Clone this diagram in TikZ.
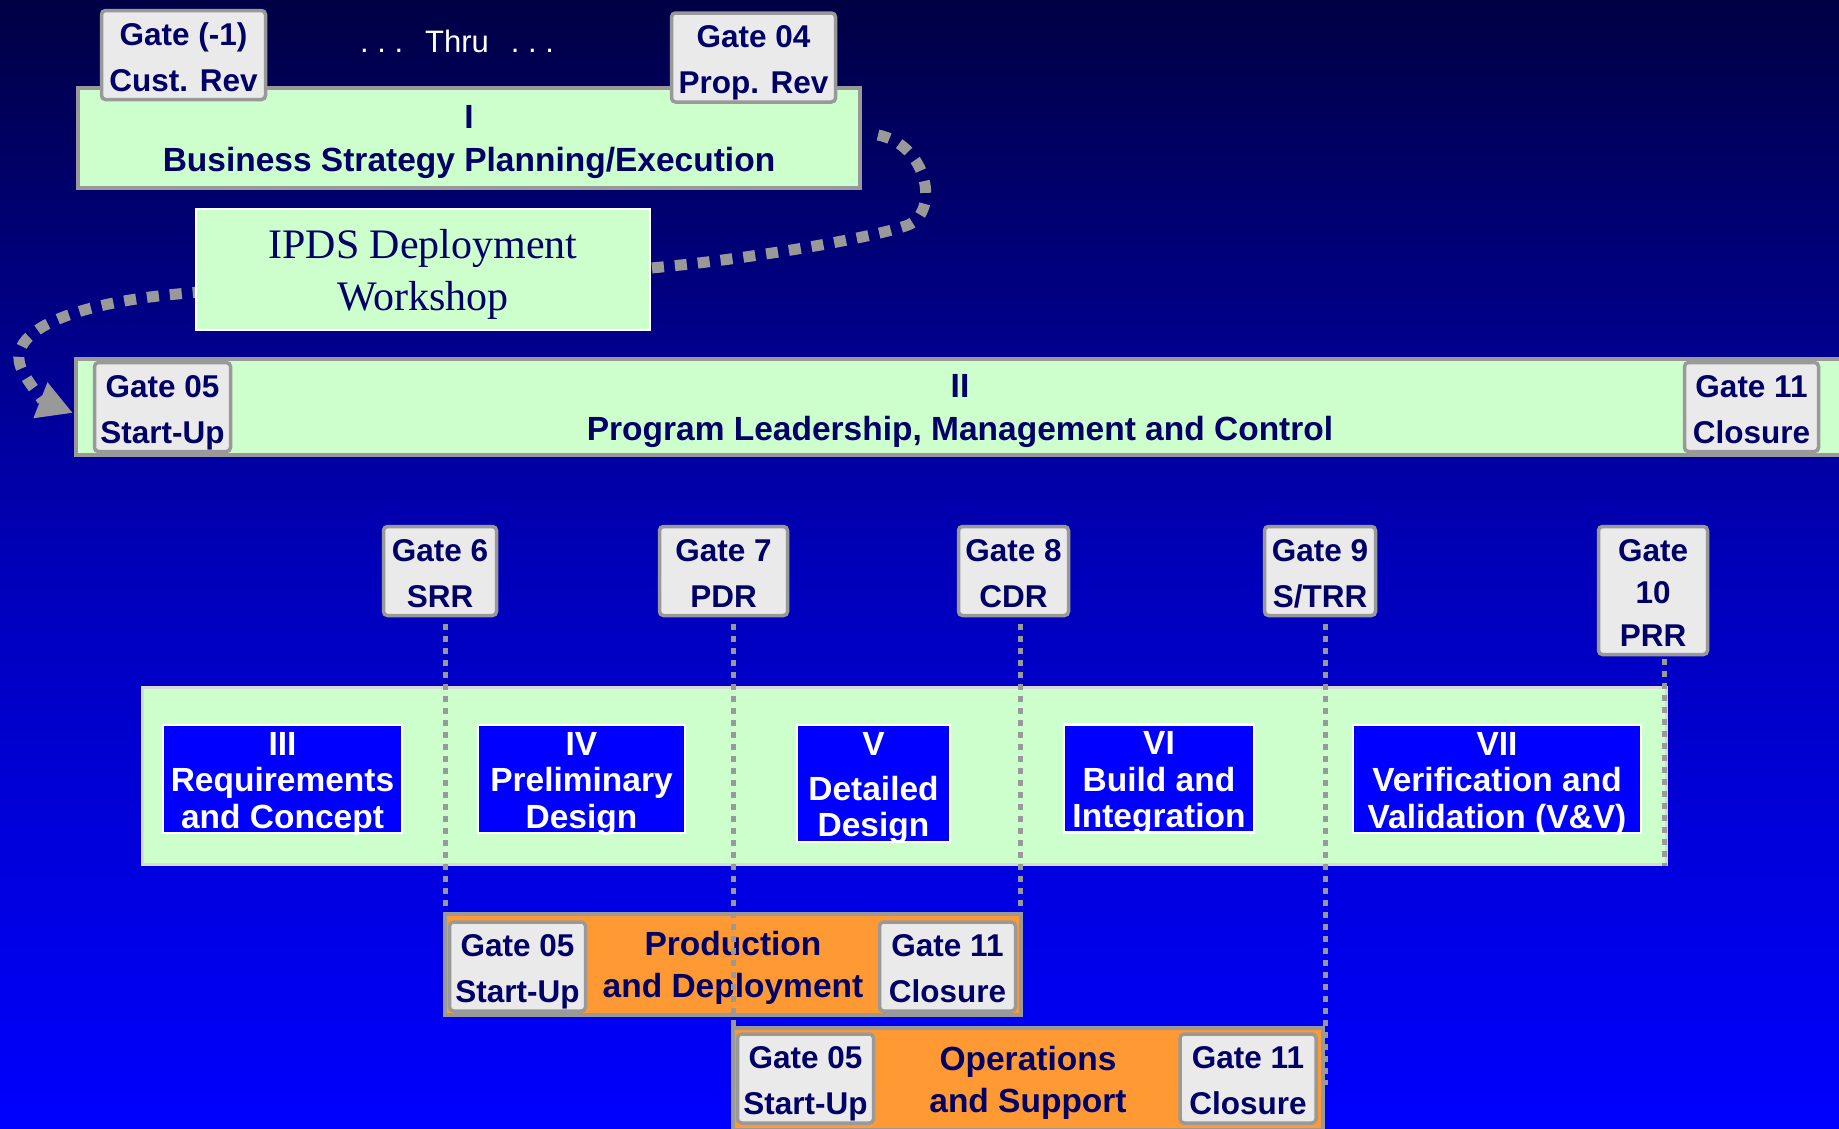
\documentclass[tikz,border=0pt]{standalone}
\usepackage{fontspec}
\setmainfont{Liberation Serif}
\setsansfont{Liberation Sans}
\usetikzlibrary{arrows.meta}

\definecolor{navytext}{RGB}{0,0,102}
\definecolor{palegreen}{RGB}{204,255,204}
\definecolor{gatefill}{RGB}{234,234,234}
\definecolor{edgegray}{RGB}{153,153,153}
\definecolor{bandedge}{RGB}{217,217,217}
\definecolor{phaseorange}{RGB}{255,153,51}
\definecolor{bgtop}{RGB}{0,0,68}
\definecolor{bgmid}{RGB}{0,0,185}
\definecolor{bgbot}{RGB}{0,0,255}

\tikzset{
  wh/.style 2 args={minimum width=#1, minimum height=#2},
  gatebox/.style={draw=edgegray, line width=3.5pt, fill=gatefill, rounded corners=4pt,
    inner sep=0pt, align=center, text=navytext, text height=79pt, text depth=6.6pt,
    font=\sffamily\bfseries\fontsize{31.5}{46}\selectfont},
  phasebox/.style={draw=edgegray, line width=4pt, fill=palegreen, inner sep=0pt,
    align=center, text=navytext, text height=74pt, text depth=7pt,
    font=\sffamily\bfseries\fontsize{33.5}{43}\selectfont},
  workshop/.style={draw=white, line width=2.5pt, fill=palegreen, inner sep=0pt,
    align=center, text=navytext, text height=90pt, text depth=9pt,
    font=\rmfamily\fontsize{42}{52}\selectfont},
  band/.style={draw=bandedge, line width=3pt, fill=palegreen, inner sep=0pt},
  stagebox/.style={draw=white, line width=2.5pt, fill=blue, inner sep=0pt,
    align=center, text=white, text height=103pt, text depth=5pt,
    font=\sffamily\bfseries\fontsize{33.5}{36.5}\selectfont},
  supportbox/.style={draw=edgegray, line width=4pt, fill=phaseorange, inner sep=0pt,
    align=center, text=navytext, text height=73pt, text depth=7pt,
    font=\sffamily\bfseries\fontsize{33.5}{42}\selectfont},
  thru/.style={text=white, inner sep=0pt, font=\sffamily\fontsize{31}{31}\selectfont},
  gateline/.style={draw=edgegray, line width=5pt, dash pattern=on 6pt off 6pt},
  flowline/.style={draw=edgegray, line width=11pt, dash pattern=on 12pt off 11pt,
    -{Triangle[length=35pt,width=36pt]}},
}

\begin{document}
\begin{tikzpicture}[x=1pt,y=-1pt]
  \useasboundingbox (0,0) rectangle (1839,1128);
  \shade[top color=bgtop, bottom color=bgbot, middle color=bgmid] (0,0) rectangle (1839,1128);

  % phase I
  \node[phasebox, wh={782pt}{100pt}] (bsp) at (469,138) {I\\Business Strategy Planning/Execution};
  \node[gatebox, wh={164pt}{89pt}] (gm1) at (183.5,55) {Gate (-1)\\Cust. Rev};
  \node[gatebox, wh={164pt}{89pt}] (g04) at (753.5,57.5) {Gate 04\\Prop. Rev};
  \node[thru] (thrutext) at (457,41) {.~.~.\hspace{22pt}Thru\hspace{22pt}.~.~.};

  % workshop hand-off
  \coordinate (flowstart) at (878,135);
  \coordinate (flowend) at (73,413);
  \draw[flowline] (flowstart) .. controls (928,145) and (940,212) .. (908,225)
    .. controls (880,236) and (760,258) .. (651,268)
    .. controls (500,281) and (260,283) .. (150,297)
    .. controls (60,309) and (5,335) .. (22,370)
    .. controls (30,386) and (45,402) .. (flowend);
  \node[workshop, wh={454pt}{121pt}] (ipds) at (423,269.5) {IPDS Deployment\\Workshop};

  % phase II
  \node[phasebox, wh={1768pt}{96pt}] (plc) at (960,407) {II\\Program Leadership, Management and Control};
  \node[gatebox, wh={136pt}{89pt}] (g05a) at (162.5,407) {Gate 05\\Start-Up};
  \node[gatebox, wh={134pt}{89pt}] (g11a) at (1751.5,407) {Gate 11\\Closure};

  % review gates
  \node[gatebox, wh={113pt}{89pt}] (g6) at (440,571) {Gate 6\\SRR};
  \node[gatebox, wh={128pt}{89pt}] (g7) at (723.5,571) {Gate 7\\PDR};
  \node[gatebox, wh={110pt}{89pt}] (g8) at (1013.5,571) {Gate 8\\CDR};
  \node[gatebox, wh={111pt}{89pt}] (g9) at (1320,571) {Gate 9\\S/TRR};
  \node[gatebox, wh={109pt}{128pt}, text height=118pt,
    font=\sffamily\bfseries\fontsize{31.5}{42.5}\selectfont]
    (g10) at (1653,590.5) {Gate\\10\\PRR};

  % phases III - VII
  \node[band, wh={1524pt}{177pt}] (dev) at (904.5,776) {};
  \node[stagebox, wh={239pt}{108pt}] (s3) at (282.5,779) {III\\Requirements\\and Concept};
  \node[stagebox, wh={207pt}{108pt}] (s4) at (581.5,779) {IV\\Preliminary\\Design};
  \node[stagebox, wh={153pt}{117pt}, text height=111pt] (s5) at (873.5,783.5) {V\\[8pt]Detailed\\Design};
  \node[stagebox, wh={190pt}{107pt}] (s6) at (1159,778.5) {VI\\Build and\\Integration};
  \node[stagebox, wh={288pt}{106pt}] (s7) at (1497,779) {VII\\Verification and\\Validation (V\&V)};

  % production and deployment
  \node[supportbox, wh={576pt}{101pt}] (prod) at (733,964.5) {Production\\and Deployment};
  \node[gatebox, wh={136pt}{89pt}] (g05p) at (517.5,966.5) {Gate 05\\Start-Up};
  \node[gatebox, wh={136pt}{89pt}] (g11p) at (947.5,966.5) {Gate 11\\Closure};

  % operations and support
  \node[supportbox, wh={590pt}{102pt}] (ops) at (1028,1079) {Operations\\and Support};
  \node[gatebox, wh={136pt}{89pt}] (g05o) at (805.5,1078.5) {Gate 05\\Start-Up};
  \node[gatebox, wh={136pt}{89pt}] (g11o) at (1248,1078.5) {Gate 11\\Closure};

  % gate lines
  \draw[gateline] ([xshift=5pt,yshift=-7pt]g6.south) -- ([xshift=5pt]g6.south |- prod.north);
  \draw[gateline] ([xshift=9.5pt,yshift=-7pt]g7.south) -- ([xshift=9.5pt]g7.south |- ops.north);
  \draw[gateline] ([xshift=6.5pt,yshift=-7pt]g8.south) -- ([xshift=6.5pt]g8.south |- prod.north);
  \draw[gateline] ([xshift=5pt,yshift=-7pt]g9.south) -- ([xshift=5pt,yshift=-6pt]g9.south |- ops.east);
  \draw[gateline] ([xshift=11pt,yshift=-3pt]g10.south) -- ([xshift=11pt]g10.south |- dev.south);
\end{tikzpicture}
\end{document}
